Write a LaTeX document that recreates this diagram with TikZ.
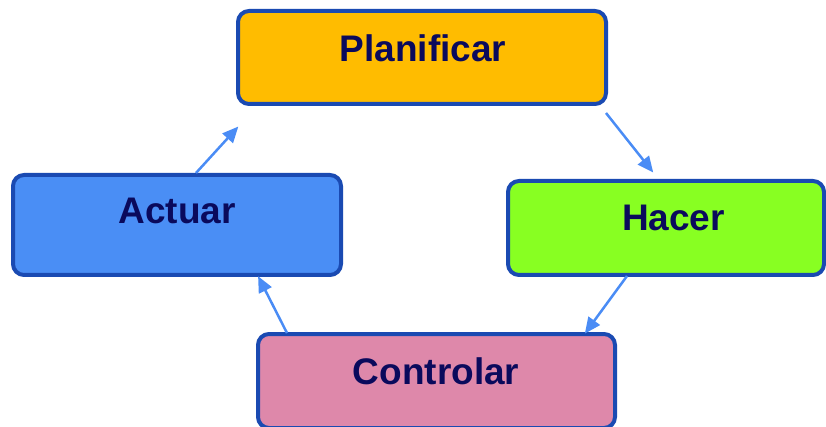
\documentclass[tikz,border=0pt]{standalone}
\usepackage{fontspec}
\setmainfont{Liberation Sans}
\usetikzlibrary{arrows.meta}
\definecolor{bordercol}{HTML}{1A4AB2}
\definecolor{arrowcol}{HTML}{4A8CF5}
\definecolor{textcol}{HTML}{0A0A5C}
\definecolor{planfill}{HTML}{FFBC00}
\definecolor{actfill}{HTML}{4A8EF5}
\definecolor{hacfill}{HTML}{88FF22}
\definecolor{ctrlfill}{HTML}{DE88AA}
\tikzset{
  box/.style={draw=bordercol, line width=4pt, rounded corners=11pt, inner sep=0pt},
  lbl/.style={anchor=base, text=textcol, font=\fontsize{37}{40}\selectfont\bfseries, inner sep=0pt},
  arr/.style={draw=arrowcol, line width=2.5pt, -{Triangle[length=16pt,width=14pt]}, shorten >=-2pt}
}
\begin{document}
\begin{tikzpicture}[x=1pt,y=-1pt]
\useasboundingbox (0,0) rectangle (826,427);
% boxes
\node[box, fill=planfill, minimum width=368pt, minimum height=93pt] (plan) at (422,57.5) {};
\node[box, fill=actfill, minimum width=328pt, minimum height=100pt] (act) at (177,225) {};
\node[box, fill=hacfill, minimum width=316pt, minimum height=94pt] (hac) at (666,228) {};
\node[box, fill=ctrlfill, minimum width=357pt, minimum height=94pt] (ctrl) at (436.5,381) {};
% labels
\node[lbl] (plant) at (423,62) {Planificar};
\node[lbl] (actt) at (177,224) {Actuar};
\node[lbl] (hact) at (673.5,231) {Hacer};
\node[lbl] (ctrlt) at (436,384) {Controlar};
% arrow end points
\coordinate (a1s) at (606,113);
\coordinate (a1e) at (652,171);
\coordinate (a2s) at (627,276);
\coordinate (a2e) at (586,332);
\coordinate (a3s) at (287,333);
\coordinate (a3e) at (259,278);
\coordinate (a4s) at (196,173);
\coordinate (a4e) at (237,128);
\draw[arr] (a1s) -- (a1e);
\draw[arr] (a2s) -- (a2e);
\draw[arr] (a3s) -- (a3e);
\draw[arr] (a4s) -- (a4e);
\end{tikzpicture}
\end{document}
